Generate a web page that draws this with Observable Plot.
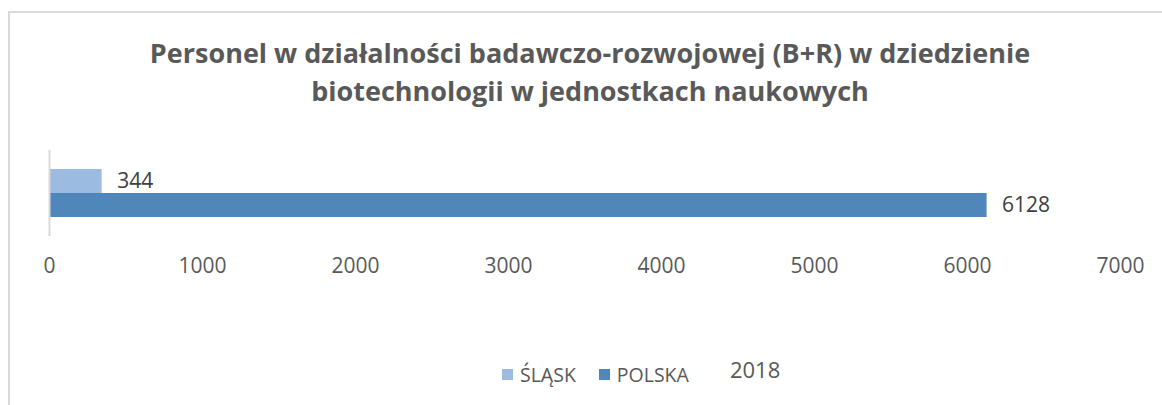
<!DOCTYPE html>
<html>
<head>
<meta charset="utf-8">
<script src="https://cdn.jsdelivr.net/npm/d3@7"></script>
<script src="https://cdn.jsdelivr.net/npm/@observablehq/plot@0.6"></script>
<style>
  html, body { margin: 0; padding: 0; background: #fff; overflow: hidden; }
  #page { position: relative; width: 1162px; height: 405px; overflow: hidden; font-family: "Open Sans", sans-serif; }
  #frame { position: absolute; left: 8px; top: 11px; width: 1300px; height: 600px; border: 2px solid #d9d9d9; box-sizing: border-box; }
  #title { position: absolute; left: 0; top: 34px; width: 1180px; text-align: center; font-weight: 700; font-size: 27px; line-height: 38px; color: #595959; }
  #chart { position: absolute; left: 0; top: 0; }
  #legend { position: absolute; left: 502px; top: 359px; display: flex; align-items: center; font-size: 19.5px; color: #595959; white-space: nowrap; }
  #legend .sw { display: inline-block; width: 11px; height: 11px; margin-right: 7px; }
  #legend .item { display: flex; align-items: center; margin-right: 23px; }
  #legend .year { font-size: 22px; margin-left: 18px; position: relative; top: -5px; }
</style>
</head>
<body>
<div id="page">
  <div id="frame"></div>
  <div id="title">Personel w działalności badawczo-rozwojowej (B+R) w dziedzienie<br>biotechnologii w jednostkach naukowych</div>
  <div id="chart"></div>
  <div id="legend"></div>
</div>
<script>
const regions = ["ŚLĄSK", "POLSKA"];
const values = [344, 6128];
const colors = ["#9bbbe0", "#4f87bb"];
const year = "2018";
const xTicks = [0, 1000, 2000, 3000, 4000, 5000, 6000, 7000];

const data = regions.map((r, i) => ({region: r, value: values[i]}));

const chart = Plot.plot({
  width: 1162,
  height: 300,
  marginLeft: 49,
  marginRight: 42,
  marginTop: 150,
  marginBottom: 64,
  style: {fontFamily: "'Open Sans', sans-serif", background: "transparent", overflow: "visible"},
  x: {domain: [0, 7000], label: null},
  y: {domain: regions, paddingInner: 0, paddingOuter: 0.79, axis: null},
  color: {domain: regions, range: colors},
  marks: [
    Plot.barX(data, {x: "value", y: "region", fill: "region"}),
    Plot.ruleX([0], {stroke: "#d9d9d9", strokeWidth: 2}),
    Plot.text(data, {x: "value", y: "region", text: d => String(d.value), textAnchor: "start", dx: 15, fontSize: 21, fill: "#404040"}),
    Plot.axisX({ticks: xTicks, tickSize: 0, tickPadding: 22, fontSize: 21, color: "#595959", label: null, tickFormat: d => String(d)})
  ]
});
document.getElementById("chart").appendChild(chart);

const legend = document.getElementById("legend");
regions.forEach((r, i) => {
  const item = document.createElement("span");
  item.className = "item";
  const sw = document.createElement("span");
  sw.className = "sw";
  sw.style.background = colors[i];
  item.appendChild(sw);
  item.appendChild(document.createTextNode(r));
  legend.appendChild(item);
});
const y = document.createElement("span");
y.className = "year";
y.textContent = year;
legend.appendChild(y);
</script>
</body>
</html>
